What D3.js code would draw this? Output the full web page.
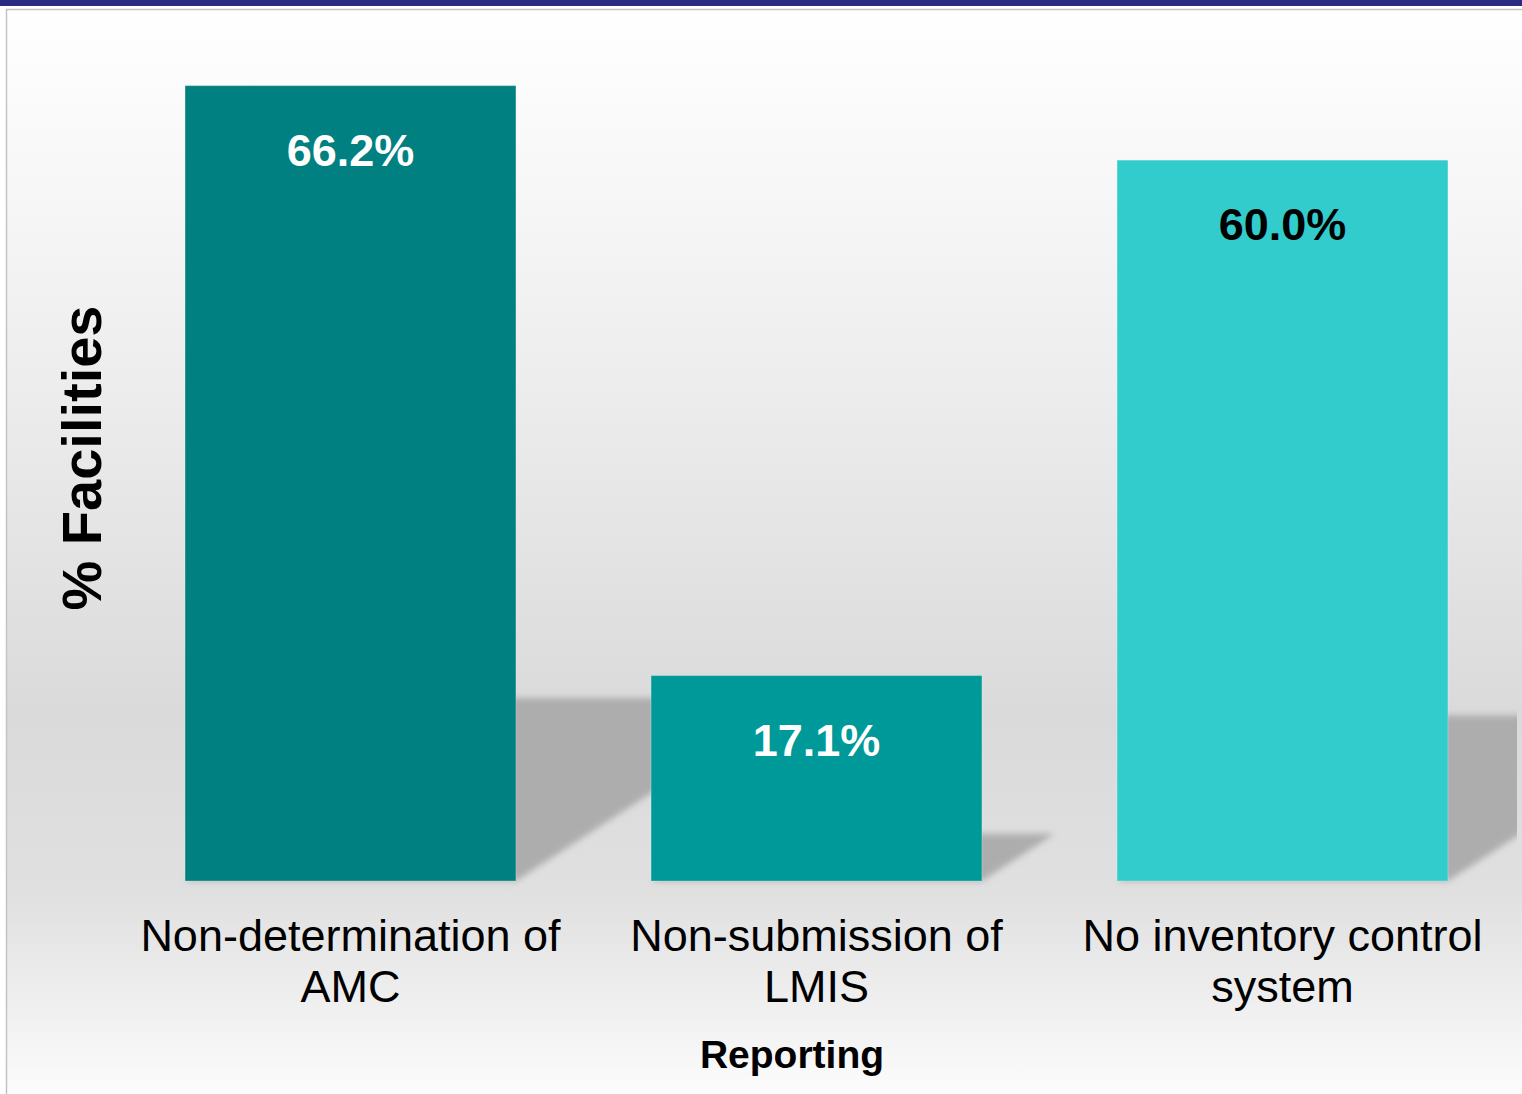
<!DOCTYPE html>
<html>
<head>
<meta charset="utf-8">
<script src="https://cdn.jsdelivr.net/npm/d3@7"></script>
<style>
  html, body { margin: 0; padding: 0; background: #ffffff; }
  svg { display: block; }
</style>
</head>
<body>
<script>
const categories = [["Non-determination of", "AMC"], ["Non-submission of", "LMIS"], ["No inventory control", "system"]];
const values = [66.2, 17.1, 60.0];
const valueLabels = ["66.2%", "17.1%", "60.0%"];
const barColors = ["#008080", "#009999", "#33cccc"];
const labelColors = ["#ffffff", "#ffffff", "#000000"];
const yTitle = "% Facilities";
const xTitle = "Reporting";

const W = 1522, H = 1094;
const svg = d3.select("body").append("svg").attr("width", W).attr("height", H);
const defs = svg.append("defs");

const grad = defs.append("linearGradient").attr("id", "bg").attr("x1", 0).attr("y1", 0).attr("x2", 0).attr("y2", 1);
[[0, "#ffffff"], [0.18, "#f6f6f6"], [0.42, "#e8e8e8"], [0.64, "#dadada"], [0.8, "#e0e0e0"], [0.92, "#f2f2f2"], [1, "#ffffff"]]
  .forEach(([o, c]) => grad.append("stop").attr("offset", o).attr("stop-color", c));

const blur = defs.append("filter").attr("id", "blur").attr("x", "-20%").attr("y", "-20%").attr("width", "140%").attr("height", "140%");
blur.append("feGaussianBlur").attr("stdDeviation", 3);

defs.append("clipPath").attr("id", "panelClip").append("rect")
  .attr("x", 7).attr("y", 10).attr("width", 1510).attr("height", 1084);

// top band
svg.append("rect").attr("x", 0).attr("y", 0).attr("width", W).attr("height", 6).attr("fill", "#2b2a82");
// panel
svg.append("rect").attr("x", 6.5).attr("y", 9.5).attr("width", W + 10).attr("height", H + 10)
  .attr("fill", "url(#bg)").attr("stroke", "#c4c4c4").attr("stroke-width", 1.5);

const x = d3.scaleBand().domain(d3.range(values.length)).range([117.5, 1515.5]).paddingInner(0.29).paddingOuter(0.145);
const y = d3.scaleLinear().domain([0, 70]).range([881, 40]);
const base = y(0);

// shadows
const sh = svg.append("g").attr("clip-path", "url(#panelClip)");
sh.selectAll("polygon").data(values).join("polygon")
  .attr("points", (d, i) => {
    const x0 = x(i), x1 = x(i) + x.bandwidth();
    const hs = 0.23 * (base - y(d));
    const dx = hs / 0.65;
    return [[x0, base], [x1, base], [x1 + dx, base - hs], [x0 + dx, base - hs]].map(p => p.join(",")).join(" ");
  })
  .attr("fill", "#adadad")
  .attr("filter", "url(#blur)");

// bars
svg.append("g").selectAll("rect").data(values).join("rect")
  .attr("x", (d, i) => x(i))
  .attr("y", d => y(d))
  .attr("width", x.bandwidth())
  .attr("height", d => base - y(d))
  .attr("fill", (d, i) => barColors[i])
  .attr("stroke", "rgba(255,255,255,0.25)")
  .attr("stroke-width", 1);

// value labels
svg.append("g").selectAll("text").data(values).join("text")
  .attr("x", (d, i) => x(i) + x.bandwidth() / 2)
  .attr("y", d => y(d) + 80)
  .attr("text-anchor", "middle")
  .attr("font-family", "Liberation Sans, Arial, sans-serif")
  .attr("font-weight", "bold")
  .attr("font-size", 45)
  .attr("fill", (d, i) => labelColors[i])
  .text((d, i) => valueLabels[i]);

// category labels
const cat = svg.append("g").selectAll("text").data(categories).join("text")
  .attr("x", (d, i) => x(i) + x.bandwidth() / 2)
  .attr("y", 951)
  .attr("text-anchor", "middle")
  .attr("font-family", "Liberation Sans, Arial, sans-serif")
  .attr("font-size", 45)
  .attr("fill", "#000");
cat.selectAll("tspan").data(d => d).join("tspan")
  .attr("x", function () { return d3.select(this.parentNode).attr("x"); })
  .attr("dy", (d, j) => j === 0 ? 0 : 51)
  .text(d => d);

// axis titles
svg.append("text")
  .attr("x", 792).attr("y", 1068)
  .attr("text-anchor", "middle")
  .attr("font-family", "Liberation Sans, Arial, sans-serif")
  .attr("font-weight", "bold")
  .attr("font-size", 39)
  .text(xTitle);

svg.append("text")
  .attr("transform", "translate(101,458) rotate(-90)")
  .attr("text-anchor", "middle")
  .attr("font-family", "Liberation Sans, Arial, sans-serif")
  .attr("font-weight", "bold")
  .attr("font-size", 56)
  .text(yTitle);
</script>
</body>
</html>
